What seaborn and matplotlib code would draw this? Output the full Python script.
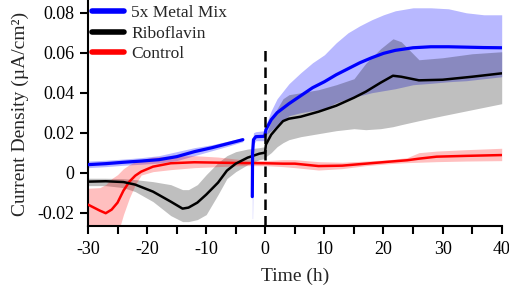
import numpy as np
import pandas as pd
import seaborn as sns
import matplotlib
matplotlib.use("Agg")
import matplotlib.pyplot as plt

# 5x Metal Mix, before the gap
metal_pre_t = [-30, -27, -24, -21, -18, -15, -12, -9, -6, -3.8]
metal_pre_mean = [0.0040, 0.0045, 0.0052, 0.0058, 0.0065, 0.0080, 0.0105, 0.0125, 0.0148, 0.0165]
metal_pre_lo = [0.0025, 0.0030, 0.0037, 0.0042, 0.0048, 0.0060, 0.0085, 0.0110, 0.0135, 0.0155]
metal_pre_hi = [0.0058, 0.0062, 0.0068, 0.0075, 0.0085, 0.0105, 0.0125, 0.0140, 0.0160, 0.0175]

# 5x Metal Mix, after the gap
metal_t = [-2.2, -2.15, -2.0, -1.6, -0.1, 0.1, 1, 2, 4, 6, 8, 10, 12, 14, 16, 18, 20, 22,
           25, 28, 31, 34, 37, 40]
metal_mean = [-0.0120, 0.0100, 0.0165, 0.0180, 0.0182, 0.0215, 0.0265, 0.0300, 0.0345, 0.0385,
              0.0425, 0.0455, 0.0490, 0.0520, 0.0550, 0.0575, 0.0597, 0.0612, 0.0625, 0.0630,
              0.0630, 0.0628, 0.0626, 0.0625]
metal_lo = [-0.0230, -0.0230, 0.0140, 0.0160, 0.0160, 0.0190, 0.0210, 0.0240, 0.0285, 0.0300,
            0.0310, 0.0320, 0.0350, 0.0370, 0.0385, 0.0400, 0.0410, 0.0420, 0.0440, 0.0447,
            0.0455, 0.0460, 0.0470, 0.0480]
metal_hi = [-0.0100, 0.0150, 0.0200, 0.0205, 0.0210, 0.0240, 0.0310, 0.0370, 0.0445, 0.0500,
            0.0550, 0.0590, 0.0650, 0.0700, 0.0735, 0.0765, 0.0790, 0.0810, 0.0825, 0.0825,
            0.0820, 0.0800, 0.0790, 0.0790]

# Riboflavin
ribo_t = [-30, -27, -24, -22, -19, -16, -14, -13, -11.5, -10, -8, -6.5, -5, -3, -1, -0.05,
          0.1, 1, 2, 3, 4, 6, 9, 12, 15, 17, 19.5, 21.6, 23, 26, 30, 35, 40]
ribo_mean = [-0.0045, -0.0043, -0.0047, -0.0060, -0.0095, -0.0145, -0.0180, -0.0175, -0.0150,
             -0.0110, -0.0050, 0.0010, 0.0045, 0.0075, 0.0095, 0.0100,
             0.0140, 0.0190, 0.0225, 0.0258, 0.0270, 0.0280, 0.0305, 0.0335, 0.0375, 0.0405,
             0.0450, 0.0485, 0.0480, 0.0462, 0.0465, 0.0480, 0.0497]
ribo_lo = [-0.0065, -0.0065, -0.0075, -0.0095, -0.0145, -0.0215, -0.0245, -0.0245, -0.0235,
           -0.0210, -0.0110, -0.0030, 0.0005, 0.0040, 0.0065, 0.0070,
           0.0080, 0.0100, 0.0130, 0.0150, 0.0165, 0.0180, 0.0195, 0.0210, 0.0220, 0.0215,
           0.0220, 0.0230, 0.0240, 0.0260, 0.0285, 0.0315, 0.0345]
ribo_hi = [-0.0028, -0.0028, -0.0030, -0.0035, -0.0045, -0.0060, -0.0085, -0.0085, -0.0060,
           -0.0010, 0.0050, 0.0085, 0.0105, 0.0118, 0.0125, 0.0130,
           0.0190, 0.0260, 0.0320, 0.0370, 0.0390, 0.0400, 0.0415, 0.0440, 0.0470, 0.0547,
           0.0620, 0.0670, 0.0655, 0.0565, 0.0575, 0.0595, 0.0605]

# Control
ctrl_t = [-30, -28, -27, -26, -25, -24.5, -24, -23, -22, -21, -19, -16, -12, -8, -4, 0,
          3, 5, 9, 13, 17, 21, 24, 26, 29, 34, 40]
ctrl_mean = [-0.0160, -0.0190, -0.0203, -0.0185, -0.0150, -0.0120, -0.0090, -0.0045, -0.0015,
             0.0005, 0.0030, 0.0047, 0.0052, 0.0050, 0.0048, 0.0047,
             0.0045, 0.0045, 0.0033, 0.0035, 0.0045, 0.0055, 0.0062, 0.0070, 0.0080, 0.0084, 0.0088]
ctrl_lo = [-0.0300, -0.0300, -0.0300, -0.0300, -0.0300, -0.0260, -0.0210, -0.0127, -0.0060,
           -0.0012, 0.0005, 0.0015, 0.0025, 0.0030, 0.0035, 0.0035,
           0.0030, 0.0025, 0.0013, 0.0020, 0.0035, 0.0045, 0.0050, 0.0052, 0.0055, 0.0058, 0.0060]
ctrl_hi = [-0.0078, -0.0075, -0.0060, -0.0030, -0.0010, 0.0005, 0.0020, 0.0040, 0.0055,
           0.0065, 0.0078, 0.0083, 0.0085, 0.0078, 0.0065, 0.0060,
           0.0065, 0.0065, 0.0055, 0.0052, 0.0058, 0.0065, 0.0075, 0.0100, 0.0108, 0.0115, 0.0122]

labels = ["5x Metal Mix", "Riboflavin", "Control"]
x_ticks = [-30, -25, -20, -15, -10, -5, 0, 5, 10, 15, 20, 25, 30, 35, 40]
x_ticklabels = ["-30", "", "-20", "", "-10", "", "0", "", "10", "", "20", "", "30", "", "40"]
y_ticks = [-0.02, 0, 0.02, 0.04, 0.06, 0.08]
y_ticklabels = ["-0.02", "0", "0.02", "0.04", "0.06", "0.08"]
event_t = 0
event_top = 0.064

sns.set_style("ticks")
plt.rcParams["font.family"] = ["Liberation Serif", "DejaVu Serif"]
plt.rcParams["axes.unicode_minus"] = False

fig = plt.figure(figsize=(5.1, 2.92), dpi=100)
ax = fig.add_axes([88 / 510, 66 / 292, 413.7 / 510, 225 / 292])

ymin, ymax = -0.0267, 0.0859

# shaded spreads
ax.fill_between(metal_pre_t, metal_pre_lo, metal_pre_hi, color="#0000ff", alpha=0.28, lw=0)
ax.fill_between(metal_t, metal_lo, metal_hi, color="#0000ff", alpha=0.28, lw=0)
ax.fill_between(ribo_t, ribo_lo, ribo_hi, color="black", alpha=0.25, lw=0)
ax.fill_between(ctrl_t, ctrl_lo, ctrl_hi, color="#ff0000", alpha=0.25, lw=0)

sns.lineplot(x=metal_pre_t, y=metal_pre_mean, color="#0000ff", lw=2.3, estimator=None,
             sort=False, label=labels[0], ax=ax, zorder=5)
sns.lineplot(x=metal_t, y=metal_mean, color="#0000ff", lw=2.3, estimator=None,
             sort=False, ax=ax, zorder=5)
sns.lineplot(x=ribo_t, y=ribo_mean, color="black", lw=1.8, estimator=None,
             sort=False, label=labels[1], ax=ax, zorder=4)
sns.lineplot(x=ctrl_t, y=ctrl_mean, color="#ff0000", lw=1.8, estimator=None,
             sort=False, label=labels[2], ax=ax, zorder=3)

ax.vlines(event_t, ymin, event_top, colors="black", lw=1.8, linestyles=(0, (4.2, 2.4)), zorder=6)

ax.set_xlim(-30, 40)
ax.set_ylim(ymin, ymax)
ax.set_xticks(x_ticks)
ax.set_xticklabels(x_ticklabels)
ax.set_yticks(y_ticks)
ax.set_yticklabels(y_ticklabels)
ax.tick_params(direction="out", length=6, width=1.5, labelsize=13, colors="black", pad=4)
ax.tick_params(axis="x", pad=5)
ax.set_xlabel("Time (h)", fontsize=14, labelpad=7)
ax.set_ylabel("Current Density (µA/cm²)", fontsize=14, labelpad=6)
for side in ["top", "right"]:
    ax.spines[side].set_visible(False)
for side in ["left", "bottom"]:
    ax.spines[side].set_linewidth(1.5)
    ax.spines[side].set_color("black")

leg = ax.legend(loc="upper left", frameon=False, fontsize=12.5, handlelength=1.85,
                handletextpad=0.4, labelspacing=0.25, borderaxespad=0.15, borderpad=0.1)
for line in leg.get_lines():
    line.set_linewidth(4)

fig.savefig("out.png", dpi=100)
